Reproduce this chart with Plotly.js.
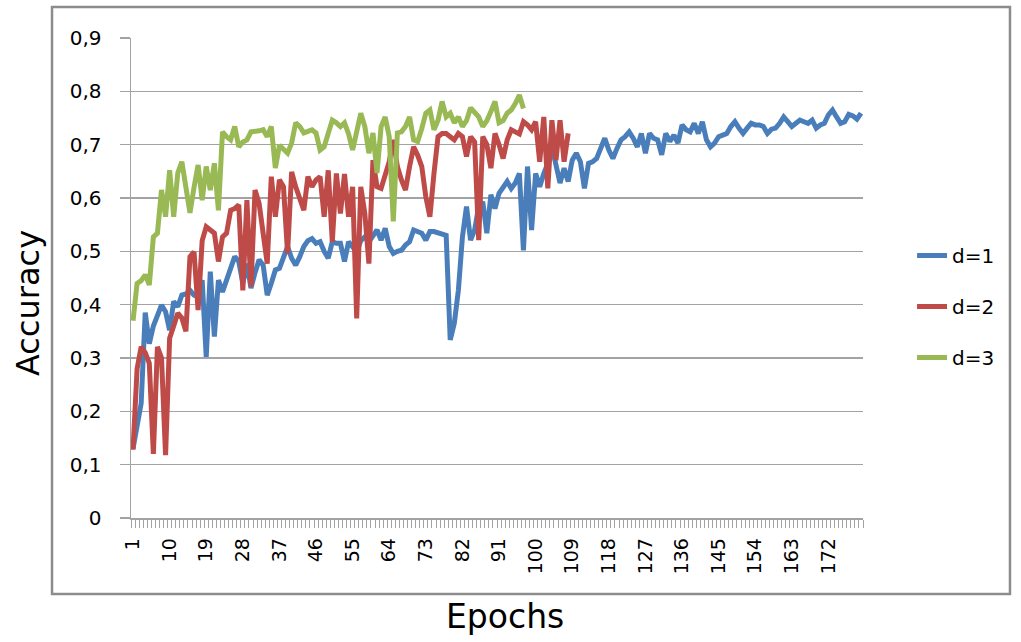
<!DOCTYPE html>
<html>
<head>
<meta charset="utf-8">
<script src="https://cdn.plot.ly/plotly-3.0.1.min.js"></script>
<style>html,body{margin:0;padding:0;background:#fff;}#chart{width:1021px;height:642px;}</style>
</head>
<body>
<div id="chart"></div>
<script>
// ---- data ----
const epochCount = 180;
const epochs = Array.from({length: epochCount}, (_, i) => i + 1);

const seriesNames = ['d=1', 'd=2', 'd=3'];

const accD1 = [
  0.13, 0.17, 0.215, 0.385, 0.327, 0.36, 0.378, 0.399, 0.387, 0.352,
  0.406, 0.396, 0.418, 0.42, 0.427, 0.418, 0.415, 0.446, 0.302, 0.462,
  0.34, 0.446, 0.424, 0.446, 0.47, 0.49, 0.481, 0.44, 0.477, 0.431,
  0.46, 0.484, 0.474, 0.418, 0.44, 0.465, 0.468, 0.49, 0.509, 0.487,
  0.474, 0.49, 0.509, 0.52, 0.524, 0.515, 0.518, 0.50, 0.487, 0.518,
  0.515, 0.515, 0.481, 0.518, 0.509, 0.499, 0.52, 0.527, 0.518, 0.531,
  0.54, 0.521, 0.543, 0.509, 0.496, 0.50, 0.502, 0.512, 0.518, 0.54,
  0.536, 0.534, 0.521, 0.537, 0.537, 0.535, 0.534, 0.53, 0.334, 0.365,
  0.427, 0.527, 0.584, 0.521, 0.54, 0.584, 0.593, 0.534, 0.606, 0.58,
  0.609, 0.62, 0.631, 0.618, 0.628, 0.646, 0.502, 0.659, 0.54, 0.646,
  0.621, 0.646, 0.665, 0.696, 0.665, 0.628, 0.656, 0.631, 0.671, 0.684,
  0.668, 0.618, 0.665, 0.668, 0.674, 0.696, 0.712, 0.69, 0.674, 0.693,
  0.709, 0.715, 0.724, 0.712, 0.696, 0.721, 0.684, 0.721, 0.712, 0.709,
  0.681, 0.721, 0.706, 0.718, 0.703, 0.737, 0.728, 0.724, 0.74, 0.721,
  0.743, 0.709, 0.696, 0.703, 0.715, 0.718, 0.721, 0.734, 0.743, 0.731,
  0.721, 0.731, 0.74, 0.737, 0.737, 0.734, 0.721, 0.729, 0.731, 0.74,
  0.752, 0.743, 0.734, 0.74, 0.746, 0.743, 0.74, 0.746, 0.731, 0.737,
  0.74, 0.756, 0.765, 0.752, 0.74, 0.743, 0.757, 0.754, 0.748, 0.759
];

const accD2 = [
  0.128, 0.28, 0.321, 0.31, 0.29, 0.12, 0.321, 0.30, 0.118, 0.337,
  0.36, 0.384, 0.375, 0.35, 0.49, 0.499, 0.39, 0.52, 0.546, 0.54,
  0.534, 0.481, 0.527, 0.534, 0.577, 0.58, 0.587, 0.427, 0.596, 0.434,
  0.615, 0.59, 0.54, 0.477, 0.64, 0.565, 0.634, 0.621, 0.496, 0.649,
  0.621, 0.596, 0.577, 0.64, 0.621, 0.634, 0.64, 0.565, 0.652, 0.518,
  0.646, 0.571, 0.645, 0.565, 0.621, 0.374, 0.621, 0.571, 0.477, 0.671,
  0.621, 0.618, 0.64, 0.668, 0.709, 0.659, 0.634, 0.615, 0.659, 0.696,
  0.68, 0.659, 0.602, 0.565, 0.646, 0.715, 0.721, 0.721, 0.715, 0.709,
  0.721, 0.715, 0.678, 0.715, 0.705, 0.521, 0.715, 0.70, 0.656, 0.721,
  0.70, 0.674, 0.709, 0.728, 0.724, 0.72, 0.743, 0.737, 0.728, 0.743,
  0.668, 0.752, 0.618, 0.746, 0.671, 0.746, 0.668, 0.721
];

const accD3 = [
  0.37, 0.44, 0.445, 0.456, 0.437, 0.527, 0.534, 0.615, 0.565, 0.652,
  0.565, 0.647, 0.668, 0.62, 0.572, 0.62, 0.662, 0.596, 0.659, 0.615,
  0.665, 0.577, 0.724, 0.715, 0.709, 0.734, 0.696, 0.705, 0.709, 0.724,
  0.724, 0.726, 0.728, 0.715, 0.734, 0.656, 0.699, 0.69, 0.684, 0.703,
  0.741, 0.734, 0.722, 0.725, 0.728, 0.722, 0.69, 0.696, 0.72, 0.746,
  0.741, 0.734, 0.741, 0.72, 0.69, 0.728, 0.759, 0.734, 0.684, 0.722,
  0.647, 0.734, 0.752, 0.715, 0.556, 0.722, 0.724, 0.734, 0.752, 0.709,
  0.706, 0.73, 0.759, 0.765, 0.728, 0.746, 0.781, 0.752, 0.759, 0.741,
  0.752, 0.734, 0.745, 0.769, 0.759, 0.752, 0.734, 0.745, 0.762, 0.781,
  0.741, 0.745, 0.759, 0.765, 0.777, 0.793, 0.768
];

const xTickVals = [1, 10, 19, 28, 37, 46, 55, 64, 73, 82, 91, 100, 109, 118, 127, 136, 145, 154, 163, 172];
const xTickText = xTickVals.map(String);
const yTickVals = [0, 0.1, 0.2, 0.3, 0.4, 0.5, 0.6, 0.7, 0.8, 0.9];
const yTickText = ['0', '0,1', '0,2', '0,3', '0,4', '0,5', '0,6', '0,7', '0,8', '0,9'];

const xTitle = 'Epochs';
const yTitle = 'Accuracy';

// ---- chart ----
const colors = ['#4A7EBB', '#BE4B48', '#98B954'];
const allSeries = [accD1, accD2, accD3];
const traces = allSeries.map((vals, k) => ({
  type: 'scatter',
  mode: 'lines',
  name: seriesNames[k],
  legendgroup: 'g' + k,
  x: epochs.slice(0, vals.length),
  y: vals,
  line: {color: colors[k], width: 5, shape: 'linear'},
  hoverinfo: 'x+y+name'
}));

const gridColor = '#A3A3A3';
const layout = {
  width: 1021,
  height: 642,
  margin: {l: 131, r: 158, t: 38, b: 124, pad: 0},
  paper_bgcolor: '#ffffff',
  plot_bgcolor: '#ffffff',
  font: {family: 'DejaVu Sans, Verdana, sans-serif', size: 20, color: '#000000'},
  showlegend: true,
  xaxis: {
    range: [0.5, 180.5],
    tickmode: 'array',
    tickvals: xTickVals,
    ticktext: xTickText,
    tickangle: -90,
    ticks: '',
    ticklabelstandoff: 11,
    tickfont: {size: 19},
    showgrid: false,
    zeroline: false,
    showline: true,
    linecolor: gridColor,
    linewidth: 1.5,
    minor: {tickmode: 'linear', tick0: 0.5, dtick: 1, ticks: 'outside', ticklen: 8, tickwidth: 1, tickcolor: gridColor, showgrid: false},
    fixedrange: true
  },
  yaxis: {
    range: [0, 0.9],
    tickmode: 'array',
    tickvals: yTickVals,
    ticktext: yTickText,
    ticks: 'outside',
    ticklen: 10,
    tickwidth: 1.5,
    tickcolor: gridColor,
    ticklabelstandoff: 14,
    tickfont: {size: 20},
    showgrid: true,
    gridcolor: gridColor,
    gridwidth: 1.5,
    zeroline: false,
    showline: true,
    linecolor: gridColor,
    linewidth: 1.5,
    fixedrange: true
  },
  legend: {
    x: 1.067, xanchor: 'left',
    y: 0.5875, yanchor: 'top',
    font: {size: 20},
    tracegroupgap: 22,
    bgcolor: 'rgba(0,0,0,0)',
    borderwidth: 0
  },
  shapes: [{
    type: 'rect', xref: 'paper', yref: 'paper',
    x0: -0.1079, x1: 1.2008, y0: -0.1583, y1: 1.0646,
    line: {color: '#8C8C8C', width: 2.5}, fillcolor: 'rgba(0,0,0,0)', layer: 'below'
  }],
  annotations: [
    {text: yTitle, xref: 'paper', yref: 'paper', x: -0.1407, y: 0.448, xanchor: 'center', yanchor: 'middle',
     textangle: -90, showarrow: false, font: {size: 32}},
    {text: xTitle, xref: 'paper', yref: 'paper', x: 0.511, y: -0.206, xanchor: 'center', yanchor: 'middle',
     showarrow: false, font: {size: 33}}
  ]
};

Plotly.newPlot('chart', traces, layout, {displayModeBar: false, staticPlot: true});
</script>
</body>
</html>
